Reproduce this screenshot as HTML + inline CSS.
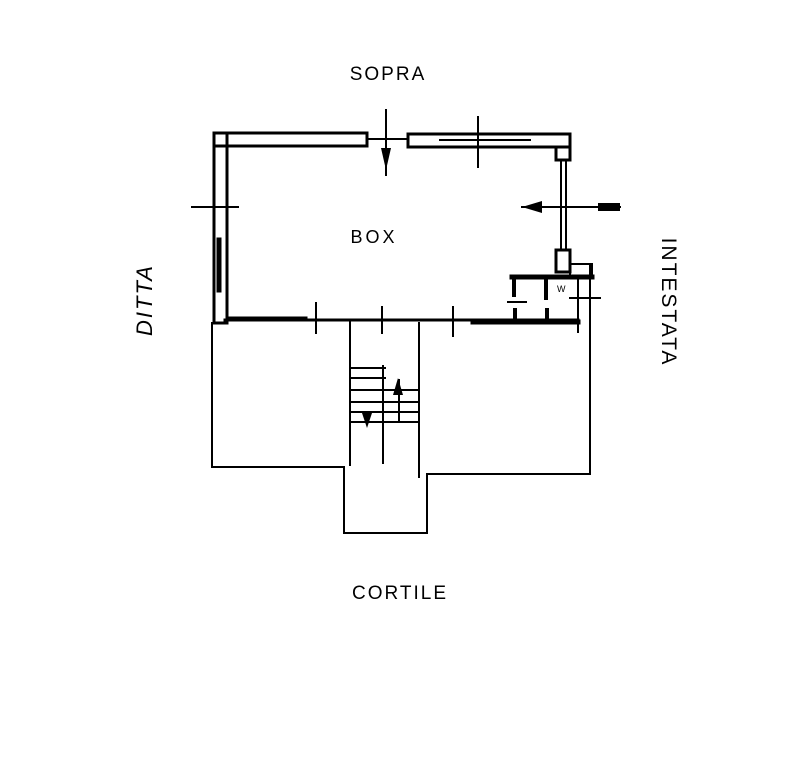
<!DOCTYPE html>
<html><head><meta charset="utf-8"><style>
html,body{margin:0;padding:0;background:#fff;width:800px;height:765px;overflow:hidden}
svg{display:block}
text{font-family:"Liberation Sans",sans-serif;fill:#000}
</style></head><body>
<svg width="800" height="765" viewBox="0 0 800 765" xmlns="http://www.w3.org/2000/svg">
<g stroke="#000" fill="none" stroke-linecap="square">
<rect x="214" y="133" width="153" height="13" stroke-width="3"/>
<line x1="367" y1="139" x2="408" y2="139" stroke-width="2"/>
<rect x="408" y="134" width="162" height="13" stroke-width="3"/>
<line x1="440" y1="140" x2="530" y2="140" stroke-width="2"/>
<rect x="556" y="147" width="14" height="13" stroke-width="3"/>
<rect x="214" y="133" width="13" height="190" stroke-width="3"/>
<line x1="219" y1="240" x2="219" y2="290" stroke-width="5"/>
<line x1="561" y1="160" x2="561" y2="250" stroke-width="2"/>
<line x1="566" y1="160" x2="566" y2="250" stroke-width="2"/>
<rect x="556" y="250" width="14" height="22" stroke-width="3"/>
<rect x="570" y="264" width="22" height="14" stroke-width="2"/>
<line x1="225" y1="320" x2="578" y2="320" stroke-width="3"/>
<line x1="228" y1="319" x2="305" y2="319" stroke-width="5"/>
<line x1="473" y1="322" x2="578" y2="322" stroke-width="5"/>
<line x1="512" y1="277" x2="592" y2="277" stroke-width="5"/>
<line x1="514" y1="277" x2="514" y2="295" stroke-width="4"/>
<line x1="546" y1="277" x2="546" y2="298" stroke-width="4"/>
<line x1="508" y1="302" x2="526" y2="302" stroke-width="2"/>
<line x1="578" y1="278" x2="578" y2="332" stroke-width="2"/>
<line x1="590" y1="265" x2="590" y2="330" stroke-width="2"/>
<line x1="570" y1="298" x2="600" y2="298" stroke-width="2"/>
<line x1="515" y1="310" x2="515" y2="320" stroke-width="4"/>
<line x1="547" y1="310" x2="547" y2="320" stroke-width="4"/>
<line x1="386" y1="110" x2="386" y2="175" stroke-width="2"/>
<line x1="478" y1="117" x2="478" y2="167" stroke-width="2"/>
<line x1="192" y1="207" x2="238" y2="207" stroke-width="2"/>
<line x1="522" y1="207" x2="620" y2="207" stroke-width="2"/>
<line x1="316" y1="303" x2="316" y2="333" stroke-width="2"/>
<line x1="382" y1="307" x2="382" y2="333" stroke-width="2"/>
<line x1="453" y1="307" x2="453" y2="336" stroke-width="2"/>
<polyline points="212,323 212,467 344,467 344,533 427,533 427,474 590,474 590,325" stroke-width="2"/>
<line x1="350" y1="320" x2="350" y2="465" stroke-width="2"/>
<line x1="419" y1="323" x2="419" y2="477" stroke-width="2"/>
<line x1="383" y1="366" x2="383" y2="463" stroke-width="2"/>
<line x1="350" y1="368" x2="385" y2="368" stroke-width="2"/>
<line x1="350" y1="378" x2="385" y2="378" stroke-width="2"/>
<line x1="350" y1="390" x2="419" y2="390" stroke-width="2"/>
<line x1="350" y1="402" x2="419" y2="402" stroke-width="2"/>
<line x1="350" y1="412" x2="419" y2="412" stroke-width="2"/>
<line x1="350" y1="422" x2="419" y2="422" stroke-width="2"/>
<line x1="399" y1="380" x2="399" y2="422" stroke-width="2"/>
</g>
<g fill="#000">
<polygon points="381,148 391,148 386,170"/>
<polygon points="522,207 542,201 542,213"/>
<rect x="598" y="203" width="22" height="8"/>
<polygon points="362,413 372,413 367,428"/>
<polygon points="393,395 403,395 398,378"/>
</g>
<text x="388" y="80" font-size="19" letter-spacing="2" text-anchor="middle">SOPRA</text>
<text x="374" y="243" font-size="18" letter-spacing="3" text-anchor="middle">BOX</text>
<text x="557" y="292" font-size="9">W</text>
<text x="400" y="599" font-size="19" letter-spacing="2" text-anchor="middle">CORTILE</text>
<text transform="translate(152,300) rotate(-90)" font-size="22" letter-spacing="2" text-anchor="middle" font-style="italic">DITTA</text>
<text transform="translate(662,302) rotate(90)" font-size="21" letter-spacing="2" text-anchor="middle">INTESTATA</text>
</svg>
</body></html>
